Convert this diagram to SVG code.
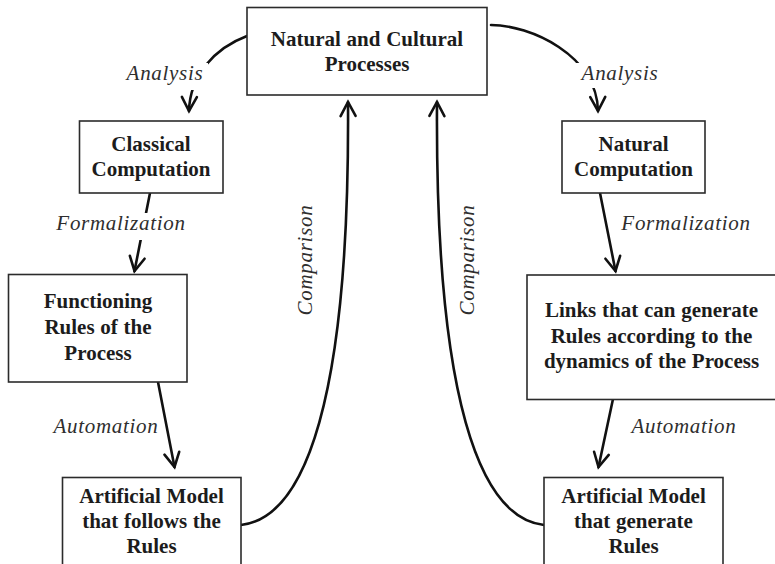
<svg xmlns="http://www.w3.org/2000/svg" width="775" height="564" viewBox="0 0 775 564">
  <style>
    .box { fill: #ffffff; stroke: #2b2b2b; stroke-width: 1.6; }
    .node-text { font-family: "Liberation Serif", "Times New Roman", serif; font-weight: bold; font-size: 21px; fill: #1c1c1c; text-anchor: middle; word-spacing: 0.5px; }
    .edge { fill: none; stroke: #111111; stroke-width: 2.6; stroke-linecap: round; }
    .label { font-family: "Liberation Serif", "Times New Roman", serif; font-style: italic; font-size: 21px; fill: #2e2e2e; text-anchor: middle; letter-spacing: 0.7px; }
    .halo { fill: #ffffff; stroke: none; }
  </style>
  <defs>
    <marker id="open-arrow" viewBox="-16 -10 20 20" refX="0" refY="0" markerWidth="20" markerHeight="20" markerUnits="userSpaceOnUse" orient="auto">
      <path d="M -14 -7.5 L 0 0 L -14 7.5" fill="none" stroke="#111111" stroke-width="2.6" stroke-linejoin="miter" stroke-linecap="round"/>
    </marker>
  </defs>

  <rect width="775" height="564" fill="#ffffff"/>

  <!-- connectors -->
  <g id="connectors">
    <!-- Analysis (left) -->
    <path class="edge" d="M 247 36 C 215 48 190 75 189 111" marker-end="url(#open-arrow)"/>
    <!-- Analysis (right) -->
    <path class="edge" d="M 491 25 C 530 25 597 55 598 111" marker-end="url(#open-arrow)"/>
    <!-- Formalization (left) -->
    <path class="edge" d="M 150 193 L 134.5 271" marker-end="url(#open-arrow)"/>
    <!-- Formalization (right) -->
    <path class="edge" d="M 600 193 L 615.5 271" marker-end="url(#open-arrow)"/>
    <!-- Automation (left) -->
    <path class="edge" d="M 158 382 L 174.5 467" marker-end="url(#open-arrow)"/>
    <!-- Automation (right) -->
    <path class="edge" d="M 613 399 L 598.5 467" marker-end="url(#open-arrow)"/>
    <!-- Comparison (left) -->
    <path class="edge" d="M 241 525 C 305 518 350 400 348 102" marker-end="url(#open-arrow)"/>
    <!-- Comparison (right) -->
    <path class="edge" d="M 544 525 C 480 518 435 400 437 102" marker-end="url(#open-arrow)"/>

    <!-- edge labels -->
    <rect class="halo" x="124" y="63" width="84" height="27"/>
    <text class="label" x="165" y="80">Analysis</text>
    <rect class="halo" x="570" y="63" width="92" height="25"/>
    <text class="label" x="620" y="80">Analysis</text>
    <rect class="halo" x="56" y="213" width="131" height="27"/>
    <text class="label" x="121" y="230">Formalization</text>
    <text class="label" x="686" y="230">Formalization</text>
    <text class="label" x="106" y="433">Automation</text>
    <text class="label" x="684" y="433">Automation</text>
    <text class="label" transform="translate(312 260) rotate(-90)">Comparison</text>
    <text class="label" transform="translate(474 260) rotate(-90)">Comparison</text>
  </g>

  <!-- nodes -->
  <g id="node-processes">
    <rect class="box" x="247" y="7.5" width="240" height="87.5"/>
    <text class="node-text" x="367" y="46">Natural and Cultural</text>
    <text class="node-text" x="367" y="71">Processes</text>
  </g>

  <g id="node-classical">
    <rect class="box" x="79.5" y="121" width="143.5" height="72"/>
    <text class="node-text" x="151" y="151">Classical</text>
    <text class="node-text" x="151" y="176">Computation</text>
  </g>

  <g id="node-natural">
    <rect class="box" x="562" y="121" width="143" height="72"/>
    <text class="node-text" x="633.5" y="151">Natural</text>
    <text class="node-text" x="633.5" y="176">Computation</text>
  </g>

  <g id="node-functioning">
    <rect class="box" x="8.5" y="274.5" width="178.5" height="107.5"/>
    <text class="node-text" x="98" y="308">Functioning</text>
    <text class="node-text" x="98" y="334">Rules of the</text>
    <text class="node-text" x="98" y="360">Process</text>
  </g>

  <g id="node-links">
    <rect class="box" x="527" y="275" width="260" height="124.5"/>
    <text class="node-text" x="651.5" y="317">Links that can generate</text>
    <text class="node-text" x="651.5" y="343">Rules according to the</text>
    <text class="node-text" x="651.5" y="368">dynamics of the Process</text>
  </g>

  <g id="node-model-follows">
    <rect class="box" x="62.5" y="477.5" width="178.5" height="100"/>
    <text class="node-text" x="151.5" y="503">Artificial Model</text>
    <text class="node-text" x="151.5" y="528">that follows the</text>
    <text class="node-text" x="151.5" y="553">Rules</text>
  </g>

  <g id="node-model-generates">
    <rect class="box" x="544" y="477.5" width="179" height="100"/>
    <text class="node-text" x="633.5" y="503">Artificial Model</text>
    <text class="node-text" x="633.5" y="528">that generate</text>
    <text class="node-text" x="633.5" y="553">Rules</text>
  </g>
</svg>
